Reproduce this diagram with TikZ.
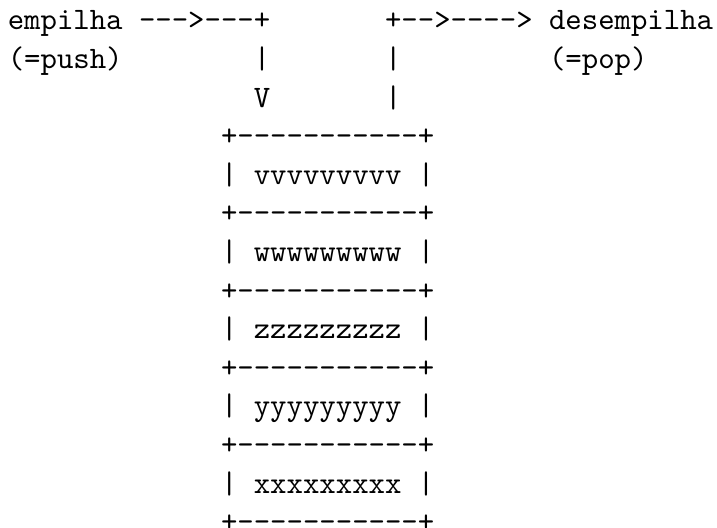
\documentclass[tikz,border=0pt]{standalone}
\newcommand\cx[1]{2.5pt+#1*5.25pt}
\newcommand\ry[1]{-9.6pt-(#1-1)*12.35pt}
\tikzset{ttline/.style={anchor=base west, inner sep=0pt, outer sep=0pt, font=\ttfamily}}
\begin{document}
\begin{tikzpicture}
\useasboundingbox (0,0) rectangle (229.5pt,-168.7pt);
% row 1
\node[ttline] (push) at ({\cx{0}},{\ry{1}}) {empilha -{}-{}->-{}-{}-+};
\node[ttline] (pop) at ({\cx{23}},{\ry{1}}) {+-{}->-{}-{}-{}-> desempilha};
% row 2
\node[ttline] (pushlbl) at ({\cx{0}},{\ry{2}}) {(=push)};
\node[ttline] (inbar) at ({\cx{15}},{\ry{2}}) {|};
\node[ttline] (outbar1) at ({\cx{23}},{\ry{2}}) {|};
\node[ttline] (poplbl) at ({\cx{33}},{\ry{2}}) {(=pop)};
% row 3
\node[ttline] (inarrow) at ({\cx{15}},{\ry{3}}) {V};
\node[ttline] (outbar2) at ({\cx{23}},{\ry{3}}) {|};
% stack
\node[ttline] (s0) at ({\cx{13}},{\ry{4}}) {+-{}-{}-{}-{}-{}-{}-{}-{}-{}-{}-+};
\node[ttline] (v) at ({\cx{13}},{\ry{5}}) {| vvvvvvvvv |};
\node[ttline] (s1) at ({\cx{13}},{\ry{6}}) {+-{}-{}-{}-{}-{}-{}-{}-{}-{}-{}-+};
\node[ttline] (w) at ({\cx{13}},{\ry{7}}) {| wwwwwwwww |};
\node[ttline] (s2) at ({\cx{13}},{\ry{8}}) {+-{}-{}-{}-{}-{}-{}-{}-{}-{}-{}-+};
\node[ttline] (z) at ({\cx{13}},{\ry{9}}) {| zzzzzzzzz |};
\node[ttline] (s3) at ({\cx{13}},{\ry{10}}) {+-{}-{}-{}-{}-{}-{}-{}-{}-{}-{}-+};
\node[ttline] (y) at ({\cx{13}},{\ry{11}}) {| yyyyyyyyy |};
\node[ttline] (s4) at ({\cx{13}},{\ry{12}}) {+-{}-{}-{}-{}-{}-{}-{}-{}-{}-{}-+};
\node[ttline] (x) at ({\cx{13}},{\ry{13}}) {| xxxxxxxxx |};
\node[ttline] (s5) at ({\cx{13}},{\ry{14}}) {+-{}-{}-{}-{}-{}-{}-{}-{}-{}-{}-+};
\end{tikzpicture}
\end{document}
